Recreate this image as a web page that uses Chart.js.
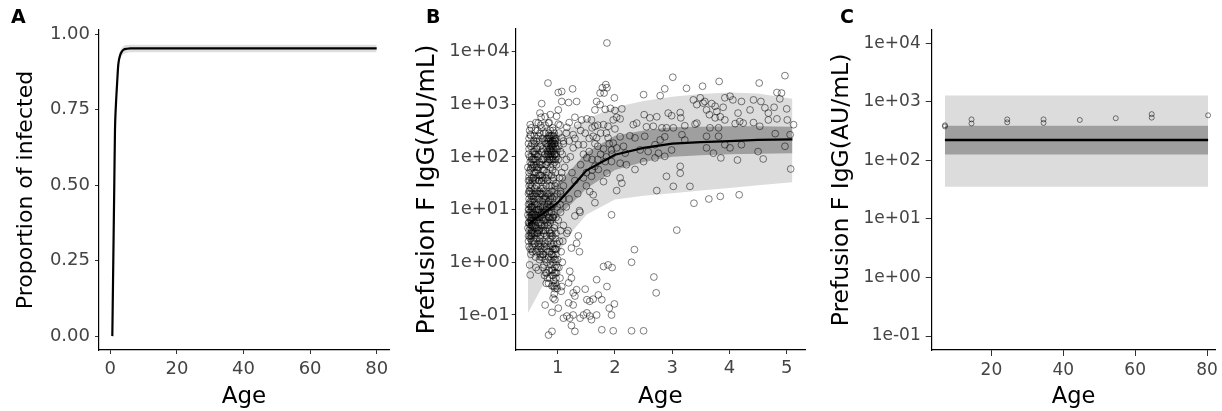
<!DOCTYPE html>
<html><head><meta charset="utf-8">
<script src="https://cdn.jsdelivr.net/npm/chart.js"></script>
<style>
html,body{margin:0;padding:0;background:#fff;}
#wrap{position:relative;width:1222px;height:411px;overflow:hidden;background:#fff;}
canvas{position:absolute;top:0;}
</style></head><body>
<div id="wrap">
<canvas id="cA" width="400" height="411" style="left:0px"></canvas>
<canvas id="cB" width="420" height="411" style="left:400px"></canvas>
<canvas id="cC" width="402" height="411" style="left:820px"></canvas>
</div>
<script>
// ---------------- DATA ----------------
// Panel A: proportion infected by age
const ageA      = [0.6, 0.8, 1.0, 1.2, 1.4, 1.7, 2.0, 2.4, 3.0, 3.5, 4.0, 5.0, 6.0, 8.0, 10, 20, 40, 60, 80];
const propA     = [0.00, 0.17, 0.34, 0.51, 0.68, 0.77, 0.83, 0.90, 0.932, 0.943, 0.949, 0.952, 0.953, 0.953, 0.953, 0.953, 0.953, 0.953, 0.953];
const propALow  = [0.00, 0.16, 0.33, 0.50, 0.665, 0.755, 0.815, 0.885, 0.918, 0.929, 0.935, 0.939, 0.940, 0.940, 0.940, 0.940, 0.940, 0.940, 0.940];
const propAHigh = [0.00, 0.18, 0.35, 0.52, 0.695, 0.785, 0.845, 0.915, 0.945, 0.955, 0.961, 0.964, 0.965, 0.965, 0.965, 0.965, 0.965, 0.965, 0.965];
const ticksAX = [0, 20, 40, 60, 80];
const ticksAY = [0, 0.25, 0.5, 0.75, 1];
const labelsAY = ['0.00', '0.25', '0.50', '0.75', '1.00'];

// Panel B: model curve (log10 IgG) by age
const ageBCurve   = [0.48, 0.75, 1.0, 1.25, 1.5, 2.0, 2.5, 3.0, 3.5, 4.0, 4.5, 5.1];
const logBMean    = [0.72, 0.93, 1.13, 1.43, 1.74, 2.04, 2.17, 2.25, 2.28, 2.30, 2.32, 2.33];
const logBCiLow   = [0.30, 0.60, 0.87, 1.12, 1.40, 1.75, 1.90, 2.00, 2.03, 2.05, 2.06, 2.07];
const logBCiHigh  = [1.09, 1.28, 1.50, 1.78, 2.08, 2.40, 2.50, 2.56, 2.57, 2.58, 2.58, 2.57];
const logBPiLow   = [-0.96, -0.42, 0.15, 0.58, 0.90, 1.19, 1.26, 1.31, 1.36, 1.41, 1.46, 1.52];
const logBPiHigh  = [2.25, 2.38, 2.47, 2.57, 2.72, 2.94, 3.06, 3.14, 3.19, 3.22, 3.20, 3.10];
const ticksBX = [1, 2, 3, 4, 5];

// Panel B: observations [age, log10 IgG]
const pointsB = [
 [3.01,3.51],[2.87,3.29],[3.25,3.30],[3.53,3.34],[3.82,3.43],[4.52,3.40],[4.97,3.54],[2.50,3.18],[2.79,3.16],[4.83,3.22],[4.91,3.21],
 [3.92,3.12],[4.01,3.15],[4.06,3.08],[4.21,3.05],[4.42,3.08],[4.55,3.05],[4.88,3.10],[3.57,3.05],[3.69,3.01],[3.75,2.96],
 [3.60,2.89],[3.65,2.80],[3.78,2.86],[3.89,2.94],[4.15,2.83],[4.36,2.89],[4.62,2.93],[4.68,2.83],[4.78,2.94],[5.00,2.91],
 [3.75,2.74],[3.84,2.76],[3.92,2.70],[4.18,2.67],[4.24,2.64],[4.42,2.65],[4.53,2.58],[4.68,2.70],[4.83,2.72],[5.01,2.70],[5.12,2.61],
 [3.66,2.55],[3.81,2.55],[4.10,2.63],
 [3.60,2.39],[3.81,2.39],[3.92,2.23],[4.01,2.17],[4.21,2.23],[4.50,2.10],[4.80,2.44],[4.97,2.20],[5.06,2.42],
 [3.60,2.17],[3.72,2.07],[3.85,1.98],[4.14,1.94],[4.59,1.96],[5.07,1.77],
 [4.17,1.28],[3.84,1.25],[3.64,1.20],[3.38,1.12],[3.08,0.61],[3.02,1.44],[3.31,1.44],[2.90,1.63],[3.14,1.82],
 [1.86,4.16],[1.86,3.31],[1.99,3.12],
 [1.83,2.90],[1.92,2.92],[2.00,2.88],[2.12,2.91],
 [2.03,2.75],[2.09,2.72],[1.97,2.70],
 [2.51,2.80],[2.61,2.74],[2.73,2.76],
 [2.93,2.83],[2.99,2.78],[3.14,2.84],[3.15,2.74],
 [3.37,3.08],[3.49,3.12],[3.43,2.99],[3.54,3.02],
 [2.32,2.61],[2.38,2.64],[2.55,2.57],[2.67,2.58],
 [2.82,2.55],[2.90,2.55],[3.02,2.55],[3.22,2.59],[3.40,2.62],[3.43,2.64],
 [1.88,2.58],[2.00,2.53],
 [1.88,2.36],[1.97,2.26],[2.09,2.38],[2.15,2.20],[2.26,2.40],[2.35,2.36],[2.52,2.39],[2.79,2.32],[2.87,2.38],[3.17,2.42],[3.22,2.32],
 [2.03,2.17],[2.18,2.07],[2.44,2.13],[2.58,2.10],[2.70,2.23],[2.76,2.07],[2.87,2.01],[2.99,2.13],
 [1.94,1.91],[2.09,1.88],[2.20,1.85],[2.50,1.91],[2.70,1.98],[2.35,1.76],
 [1.86,1.69],[2.09,1.60],[2.12,1.50],[3.14,1.69],
 [2.03,1.36],[2.73,1.36],[1.94,0.90],[2.34,0.24],[2.29,0.00],[1.88,-0.05],[1.95,-0.10],[2.68,-0.28],[1.86,-0.46],[2.72,-0.58],
 [1.99,-0.79],[1.90,-0.87],[1.94,-1.00],[1.97,-1.30],[2.29,-1.30],[2.50,-1.30],
 [0.83,3.40],[1.01,3.22],[1.07,3.24],[1.26,3.29],[1.78,3.31],[1.84,3.37],[1.81,3.21],[1.74,3.21],
 [0.72,3.01],[1.07,3.05],[1.19,3.03],[1.33,3.05],[1.01,2.89],
 [1.68,3.05],[1.74,2.99],[1.65,2.89],
 [0.69,2.83],[0.78,2.76],[0.87,2.80],[0.98,2.77],
 [0.52,2.61],[0.66,2.64],[0.84,2.64],[1.01,2.62],[1.16,2.56],
 [1.42,2.70],[1.51,2.72],[1.59,2.70],[1.65,2.58],[1.80,2.61],
 [0.52,2.42],[0.69,2.45],[0.95,2.32],[1.07,2.36],[1.27,2.42],[1.36,2.23],[1.45,2.23],[1.62,2.39],[1.68,2.36],
 [1.27,2.17],[1.51,1.98],[1.65,1.82],[1.83,1.91],[1.94,2.13],[1.59,1.63],[1.80,1.53],[1.71,1.76],
 [1.39,0.95],[1.62,1.28],[1.65,1.13],[1.56,1.34],
 [1.16,0.55],[1.36,0.50],[1.33,0.36],[1.38,0.20],[1.24,0.27],
 [0.52,-0.24],[1.21,-0.17],[1.24,-0.30],[1.19,-0.39],[1.07,-0.46],
 [1.80,-0.08],[1.68,-0.33],
 [1.33,-0.52],[1.48,-0.51],[1.27,-0.58],[1.30,-0.64],[1.51,-0.71],[1.56,-0.74],[1.62,-0.70],[1.71,-0.62],[1.77,-0.71],
 [0.78,-0.81],[0.92,-0.68],[0.95,-0.71],[1.19,-0.77],[1.27,-0.81],
 [0.90,-0.95],[1.01,-0.87],[1.10,-1.06],[1.16,-1.02],[1.21,-1.06],[1.27,-1.00],[1.39,-1.06],[1.45,-1.00],[1.51,-0.96],[1.56,-1.02],[1.68,-1.00],[1.59,-1.09],
 [0.84,-1.38],[0.90,-1.31],[1.24,-1.20],[1.30,-1.31],[1.77,-1.28],
 [1.15,1.95],[1.25,1.70],[1.10,1.45],[1.20,1.20],[1.05,0.95],[1.30,0.88],[1.38,0.98],[1.18,0.60],[1.10,0.70],[1.30,1.55],
 [1.40,1.85],[1.45,1.60],[1.50,1.45],[1.35,1.30],[1.22,2.00],[1.12,1.80],[1.08,1.60],[1.05,1.30],[1.15,1.05],[1.45,2.05],
 [1.55,2.10],[1.60,1.95],[1.70,2.20],[1.75,2.05],[1.65,2.25],[1.55,2.35],[1.48,2.45],[1.40,2.50],[1.35,2.60],[1.30,2.75],
 [1.20,2.65],[1.15,2.45],[1.10,2.25],[1.05,2.10],[1.20,2.30],[1.30,2.35],[1.60,2.55],[1.70,2.60],[1.75,2.45],[1.85,2.45],
 [1.90,2.25],[1.95,2.05],[1.80,2.15],[1.85,2.00],[1.70,1.95],[1.60,1.75],[1.50,1.70],
 [0.49,1.55],[0.50,1.20],[0.51,0.95],[0.49,0.75],[0.50,0.60],[0.52,0.85],[0.53,1.05],[0.51,1.35],[0.50,1.70],[0.52,1.90],
 [0.49,2.05],[0.53,2.20],[0.50,2.35],[0.54,1.60],[0.55,1.15],[0.54,0.70],[0.52,0.45],[0.50,0.30],[0.53,0.15],[0.51,-0.05],
 [0.55,0.40],[0.56,0.90],[0.55,1.45],[0.56,1.80],[0.54,2.00],[0.49,1.00],[0.50,0.85],[0.52,0.65],[0.53,0.55],[0.55,0.78],
 [0.51,1.10],[0.49,1.30],[0.54,1.25],[0.56,1.05],[0.52,1.48],[0.50,1.62],[0.55,1.95],[0.53,1.78],[0.49,0.50],[0.56,0.20],
 [0.51,2.50],[0.54,2.55],[0.50,2.15],[0.52,1.15],[0.55,0.60],[0.56,0.68],[0.53,0.95],[0.51,0.72],[0.54,0.90],[0.50,1.45],
 [0.57,1.25],[0.58,0.80],[0.59,0.55],[0.60,0.35],[0.61,0.10],[0.62,-0.10],[0.58,1.60],[0.59,1.95],[0.60,2.25],[0.61,2.50],
 [0.62,2.65],[0.63,2.30],[0.64,2.00],[0.65,1.75],[0.63,1.45],[0.64,1.10],[0.66,0.85],[0.65,0.55],[0.67,0.30],[0.68,0.05],
 [0.66,-0.15],[0.69,0.20],[0.68,0.60],[0.69,0.95],[0.70,1.30],[0.67,1.55],[0.68,1.90],[0.69,2.20],[0.66,2.40],[0.70,2.60],
 [0.57,0.95],[0.59,1.15],[0.60,1.40],[0.61,0.70],[0.62,0.90],[0.63,0.65],[0.60,1.80],[0.62,2.05],[0.64,1.30],[0.65,0.95],
 [0.66,1.20],[0.67,1.00],[0.68,1.35],[0.69,1.65],[0.70,0.75],[0.58,0.40],[0.61,1.55],[0.63,1.85],[0.65,2.15],[0.67,2.00],
 [0.69,0.45],[0.70,0.10],[0.64,0.25],[0.62,0.45],[0.57,2.10],[0.59,2.40],[0.66,1.65],[0.68,2.30],[0.70,1.85],[0.63,1.00],
 [0.71,2.75],[0.72,2.55],[0.73,2.35],[0.74,2.15],[0.75,1.95],[0.76,1.75],[0.72,1.55],[0.73,1.30],[0.74,1.05],[0.75,0.80],
 [0.76,0.55],[0.77,0.30],[0.78,0.05],[0.79,-0.20],[0.80,-0.40],[0.71,0.35],[0.72,0.60],[0.73,0.85],[0.74,0.40],[0.75,0.15],
 [0.76,-0.05],[0.77,0.70],[0.78,0.95],[0.79,1.20],[0.80,1.45],[0.81,1.70],[0.82,1.95],[0.83,2.20],[0.84,2.45],[0.85,2.65],
 [0.77,2.30],[0.78,2.05],[0.79,1.85],[0.80,2.15],[0.81,2.35],[0.82,2.10],[0.83,1.90],[0.84,2.05],[0.80,0.25],[0.81,0.50],
 [0.82,0.75],[0.83,0.40],[0.84,0.10],[0.85,-0.15],[0.82,-0.30],[0.81,0.00],[0.79,0.60],[0.78,0.35],[0.77,1.10],[0.76,1.35],
 [0.75,1.55],[0.74,1.75],[0.73,1.95],[0.72,2.10],[0.71,1.40],[0.71,0.90],[0.83,1.10],[0.84,0.85],[0.85,0.60],[0.85,1.30],
 [0.80,1.00],[0.79,2.45],[0.78,2.60],[0.76,2.45],[0.82,1.55],[0.84,1.65],[0.73,0.10],[0.74,-0.10],[0.77,-0.25],[0.80,2.25],
 [0.86,2.15],[0.87,2.05],[0.88,1.95],[0.89,2.25],[0.90,2.10],[0.91,2.00],[0.92,2.30],[0.93,2.15],[0.94,2.05],[0.95,1.90],
 [0.86,2.35],[0.88,2.30],[0.90,2.40],[0.92,2.50],[0.94,2.35],[0.96,2.20],[0.97,2.05],[0.98,1.85],[0.87,1.80],[0.89,1.65],
 [0.91,1.75],[0.93,1.60],[0.95,1.45],[0.96,1.70],[0.97,1.50],[0.99,1.30],[0.86,1.45],[0.88,1.25],[0.90,1.05],[0.92,0.85],
 [0.94,0.65],[0.96,0.45],[0.98,0.25],[1.00,0.05],[0.87,0.75],[0.89,0.50],[0.91,0.30],[0.93,0.10],[0.95,-0.10],[0.97,-0.30],
 [0.99,-0.50],[0.86,0.20],[0.88,-0.05],[0.90,-0.25],[0.92,-0.45],[0.94,-0.60],[0.96,-0.40],[0.98,-0.20],[0.87,0.45],[0.89,0.95],
 [0.91,1.20],[0.93,0.90],[0.95,0.70],[0.97,0.55],[0.99,0.35],[0.96,0.05],[0.94,-0.20],[0.92,0.00],[0.90,0.60],[0.88,0.80],
 [0.86,1.05],[0.97,0.85],[0.99,1.05],[0.93,2.40],[0.91,2.20],[0.89,2.05],[0.87,2.25],[0.95,2.25],[0.97,2.35],[0.99,2.15],
 [0.93,-0.35],[0.95,-0.50],[0.91,-0.15],[0.89,0.15],[0.97,-0.05],
 [1.01,1.95],[1.02,2.20],[1.03,1.60],[1.04,1.10],[1.05,0.60],[1.06,0.20],[1.02,-0.10],[1.04,-0.30],[1.03,0.40],[1.05,1.35],
 [1.07,1.70],[1.08,2.05],[1.01,0.80],[1.09,0.40],[1.06,-0.55],[1.08,0.00],[1.02,2.45],[1.04,2.60],[1.09,1.20],[1.10,2.30],
 [0.48,0.90],[0.49,1.10],[0.50,1.35],[0.51,1.55],[0.52,1.75],[0.53,1.40],[0.54,1.05],[0.55,0.85],[0.56,0.55],[0.57,0.30],
 [0.48,0.65],[0.49,0.40],[0.50,0.75],[0.51,0.50],[0.52,0.25],[0.53,0.80],[0.54,0.50],[0.55,0.25],[0.56,1.30],[0.57,1.60],
 [0.58,1.85],[0.59,2.10],[0.58,1.20],[0.59,0.90],[0.60,0.65],[0.48,1.80],[0.49,2.25],[0.51,2.00],[0.53,2.40],[0.55,2.25],
 [0.57,1.95],[0.58,2.30],[0.60,2.05],[0.59,1.70],[0.60,1.10],[0.57,0.70],[0.56,1.55],[0.54,1.85],[0.52,1.30],[0.50,1.00],
 [0.61,0.85],[0.62,1.25],[0.63,1.60],[0.64,1.80],[0.65,1.35],[0.66,1.00],[0.67,0.75],[0.68,0.40],[0.69,0.15],[0.70,0.50],
 [0.71,0.70],[0.72,0.95],[0.73,1.15],[0.74,1.40],[0.75,1.20],[0.61,1.95],[0.62,1.70],[0.63,2.15],[0.64,2.35],[0.65,2.50],
 [0.66,2.05],[0.67,1.80],[0.68,1.55],[0.69,1.30],[0.70,1.05],[0.71,1.65],[0.72,1.85],[0.73,1.60],[0.74,0.90],[0.75,0.60],
 [0.62,0.20],[0.64,0.55],[0.66,0.35],[0.68,0.85],[0.70,0.30],[0.72,0.25],[0.74,0.15],[0.66,0.60],[0.63,0.80],[0.61,1.30],
 [0.81,2.00],[0.82,2.25],[0.83,2.05],[0.84,2.30],[0.85,2.10],[0.86,1.95],[0.87,2.15],[0.88,2.40],[0.89,2.20],[0.90,1.95],
 [0.91,2.30],[0.92,2.10],[0.93,1.95],[0.94,2.25],[0.95,2.05],[0.96,2.30],[0.97,2.15],[0.98,2.00],[0.86,2.00],[0.88,2.12],
 [0.90,2.25],[0.92,1.85],[0.94,2.45],[0.96,1.95],[0.85,2.40],[0.83,2.35],[0.87,2.50],[0.91,2.55],
 [0.81,-0.20],[0.83,0.20],[0.85,0.30],[0.86,-0.30],[0.87,0.05],[0.88,0.35],[0.89,-0.15],[0.90,0.15],[0.91,0.50],[0.92,-0.25],
 [0.93,0.35],[0.94,0.05],[0.95,0.25],[0.96,-0.20],[0.97,0.15],[0.98,-0.45],[0.99,-0.10],[0.90,-0.45],[0.88,0.55],[0.86,0.55],
 [0.94,-0.45],[0.92,0.25],[0.96,0.25],[0.84,-0.40],
 [0.76,0.95],[0.78,1.25],[0.80,1.60],[0.82,1.30],[0.84,1.15],[0.86,0.85],[0.88,1.05],[0.90,1.35],[0.92,1.55],[0.94,1.25],
 [0.79,0.80],[0.81,1.05],[0.83,0.70],[0.85,0.95],[0.87,1.20],[0.89,1.45],[0.91,0.85],[0.93,1.10],[0.78,1.60],[0.80,1.85]
];

// Panel C: constant model across adult ages
const ageCBand   = [7.06, 80.3];
const logCMean   = [2.347, 2.347];
const logCCiLow  = [2.10, 2.10];
const logCCiHigh = [2.59, 2.59];
const logCPiLow  = [1.55, 1.55];
const logCPiHigh = [3.11, 3.11];
const ageCPts = [7.06, 7.06, 14.46, 14.46, 24.4, 24.4, 34.5, 34.5, 44.6, 54.6, 64.6, 64.6, 80.3];
const logCPts = [2.60, 2.58, 2.70, 2.63, 2.70, 2.65, 2.70, 2.64, 2.69, 2.72, 2.79, 2.73, 2.77];
const ticksCX = [20, 40, 60, 80];

// Shared log-axis ticks
const logTickValues = [0.1, 1, 10, 100, 1000, 10000];
const logTickLabels = ['1e-01', '1e+00', '1e+01', '1e+02', '1e+03', '1e+04'];
const yTitleIgG = 'Prefusion F IgG(AU/mL)';

// ---------------- HELPERS ----------------
Chart.defaults.font.family = "'DejaVu Sans', sans-serif";
Chart.defaults.color = '#4d4d4d';

const panelLetter = {
  id: 'panelLetter',
  afterDraw(chart, args, opts) {
    const ctx = chart.ctx;
    ctx.save();
    ctx.font = 'bold 19px "DejaVu Sans", sans-serif';
    ctx.fillStyle = '#000';
    ctx.textBaseline = 'alphabetic';
    ctx.textAlign = 'left';
    ctx.fillText(opts.text, opts.x, opts.y);
    ctx.restore();
  }
};

const xy = (xs, ys) => xs.map((x, i) => ({x: x, y: ys[i]}));
const xyLog = (xs, ls) => xs.map((x, i) => ({x: x, y: Math.pow(10, ls[i])}));

function labelFrom(values, labels) {
  return (v) => {
    const i = values.findIndex(t => Math.abs(t - v) <= 1e-9 * Math.max(1, Math.abs(t)));
    return i >= 0 ? labels[i] : '';
  };
}

function axis(o) {
  return {
    type: o.type || 'linear',
    position: o.position,
    min: o.min, max: o.max,
    afterBuildTicks: (s) => { s.ticks = o.ticks.map(v => ({value: v})); },
    afterFit: o.fit,
    grid: {display: true, drawOnChartArea: false, drawTicks: true, tickLength: o.tickLength, color: '#333333', lineWidth: 1},
    border: {display: true, color: '#000000', width: 1.2},
    ticks: {color: '#444444', font: {size: o.tickSize}, padding: o.tickPad, autoSkip: false, maxRotation: 0, minRotation: 0,
            callback: o.callback || ((v) => String(v))},
    title: {display: true, text: o.title, color: '#000000', font: {size: o.titleSize}, padding: o.titlePad}
  };
}

function ribbon(lowData, highData, color, order) {
  return [
    {data: lowData, borderColor: 'rgba(0,0,0,0)', borderWidth: 0, pointRadius: 0, fill: false, order: order, tension: 0},
    {data: highData, borderColor: 'rgba(0,0,0,0)', borderWidth: 0, pointRadius: 0, fill: '-1', backgroundColor: color, order: order, tension: 0}
  ];
}

function baseOptions(pad, letter, xAxis, yAxis) {
  return {
    responsive: false, animation: false, devicePixelRatio: 1, events: [],
    layout: {padding: pad, autoPadding: false},
    plugins: {legend: {display: false}, tooltip: {enabled: false}, panelLetter: letter},
    scales: {x: xAxis, y: yAxis}
  };
}

// ---------------- PANEL A ----------------
new Chart(document.getElementById('cA'), {
  type: 'line',
  data: {datasets: [
    {data: xy(ageA, propA), borderColor: '#000', borderWidth: 2.2, pointRadius: 0, fill: false, cubicInterpolationMode: 'monotone', order: 0},
    ...ribbon(xy(ageA, propALow), xy(ageA, propAHigh), '#dedede', 3).map(d => Object.assign(d, {cubicInterpolationMode: 'monotone'}))
  ]},
  options: baseOptions({left: 0, top: 30, right: 11, bottom: 0}, {text: 'A', x: 11, y: 23},
    axis({position: 'bottom', min: -3.4, max: 83.7, ticks: ticksAX, fit: s => { s.height = 61; },
          tickLength: 4, tickPad: 5, tickSize: 18, title: 'Age', titleSize: 23, titlePad: {top: 0, bottom: 0}}),
    axis({position: 'left', min: -0.046, max: 1.014, ticks: ticksAY, fit: s => { s.width = 99; },
          tickLength: 4, tickPad: 5, tickSize: 18, callback: labelFrom(ticksAY, labelsAY),
          title: 'Proportion of infected', titleSize: 22, titlePad: {top: 13, bottom: 0}})),
  plugins: [panelLetter]
});

// ---------------- PANEL B ----------------
new Chart(document.getElementById('cB'), {
  type: 'line',
  data: {datasets: [
    {data: xyLog(ageBCurve, logBMean), borderColor: '#000', borderWidth: 2.3, pointRadius: 0, fill: false, tension: 0, order: 0},
    {data: pointsB.map(p => ({x: p[0], y: Math.pow(10, p[1])})), showLine: false, pointStyle: 'circle',
     pointRadius: 3.4, pointHoverRadius: 3.4, pointBorderWidth: 1, pointBorderColor: 'rgba(0,0,0,0.5)',
     pointBackgroundColor: 'rgba(0,0,0,0)', order: 1},
    ...ribbon(xyLog(ageBCurve, logBCiLow), xyLog(ageBCurve, logBCiHigh), '#9f9f9f', 2),
    ...ribbon(xyLog(ageBCurve, logBPiLow), xyLog(ageBCurve, logBPiHigh), '#dcdcdc', 3)
  ]},
  options: baseOptions({left: 0, top: 29, right: 15, bottom: 0}, {text: 'B', x: 26, y: 23},
    axis({position: 'bottom', min: 0.266, max: 5.32, ticks: ticksBX, fit: s => { s.height = 61; },
          tickLength: 4, tickPad: 4, tickSize: 18, title: 'Age', titleSize: 23, titlePad: {top: 0, bottom: 0}}),
    axis({type: 'logarithmic', position: 'left', min: Math.pow(10, -1.664), max: Math.pow(10, 4.425), ticks: logTickValues,
          fit: s => { s.width = 115.7; }, tickLength: 4, tickPad: 2, tickSize: 18,
          callback: labelFrom(logTickValues, logTickLabels),
          title: yTitleIgG, titleSize: 25, titlePad: {top: 12, bottom: 0}})),
  plugins: [panelLetter]
});

// ---------------- PANEL C ----------------
new Chart(document.getElementById('cC'), {
  type: 'line',
  data: {datasets: [
    {data: xyLog(ageCBand, logCMean), borderColor: '#000', borderWidth: 2.4, pointRadius: 0, fill: false, tension: 0, order: 0},
    {data: xyLog(ageCPts, logCPts), showLine: false, pointStyle: 'circle', pointRadius: 2.5, pointHoverRadius: 2.5,
     pointBorderWidth: 1, pointBorderColor: 'rgba(0,0,0,0.5)', pointBackgroundColor: 'rgba(0,0,0,0)', order: 1},
    ...ribbon(xyLog(ageCBand, logCCiLow), xyLog(ageCBand, logCCiHigh), '#9f9f9f', 2),
    ...ribbon(xyLog(ageCBand, logCPiLow), xyLog(ageCBand, logCPiHigh), '#dcdcdc', 3)
  ]},
  options: baseOptions({left: 0, top: 30, right: 5, bottom: 0}, {text: 'C', x: 20, y: 23},
    axis({position: 'bottom', min: 3.38, max: 82.3, ticks: ticksCX, fit: s => { s.height = 61; },
          tickLength: 6, tickPad: 4, tickSize: 17, title: 'Age', titleSize: 22.5, titlePad: {top: 0, bottom: 0}}),
    axis({type: 'logarithmic', position: 'left', min: Math.pow(10, -1.239), max: Math.pow(10, 4.227), ticks: logTickValues,
          fit: s => { s.width = 111.7; }, tickLength: 6, tickPad: 5, tickSize: 17,
          callback: labelFrom(logTickValues, logTickLabels),
          title: yTitleIgG, titleSize: 23.5, titlePad: {top: 8, bottom: 0}})),
  plugins: [panelLetter]
});
</script>
</body></html>
